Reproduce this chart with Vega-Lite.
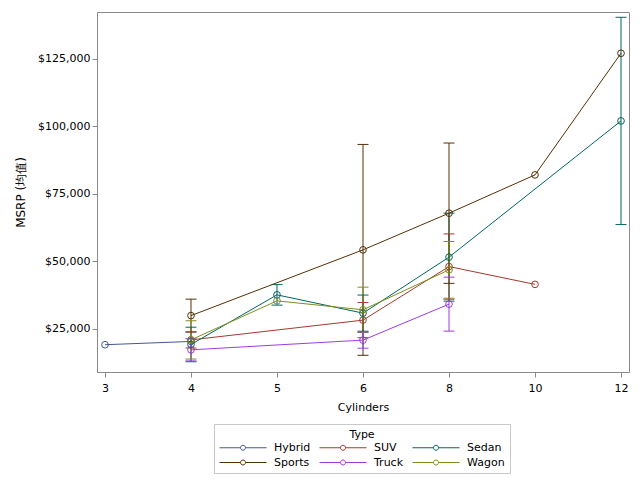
{
  "$schema": "https://vega.github.io/schema/vega-lite/v6.json",
  "width": 532,
  "height": 360,
  "autosize": {"type": "none"},
  "padding": {"left": 97, "top": 12, "right": 11, "bottom": 108},
  "background": "white",
  "config": {
    "font": "DejaVu Sans",
    "view": {"stroke": "#8a8a8a", "strokeWidth": 1},
    "axis": {
      "domainColor": "#8a8a8a", "tickColor": "#8a8a8a", "tickSize": 5, "grid": false,
      "labelFont": "DejaVu Sans", "labelFontSize": 11, "labelColor": "#000",
      "titleFont": "DejaVu Sans", "titleFontSize": 11, "titleFontWeight": "normal", "titleColor": "#000"
    },
    "legend": {
      "orient": "none", "legendX": 117, "legendY": 412,
      "direction": "horizontal", "columns": 3, "gridAlign": "each",
      "titleAnchor": "middle", "titleFont": "DejaVu Sans", "titleFontSize": 11, "titleFontWeight": "normal", "titleColor": "#000", "titlePadding": 2,
      "labelFont": "DejaVu Sans", "labelFontSize": 11, "labelColor": "#000", "labelOffset": 44,
      "symbolType": "M-1,0H3.2 M4.2,0H8.4 M3.2,0A0.5,0.5 0 1,0 4.2,0A0.5,0.5 0 1,0 3.2,0",
      "symbolSize": 100, "symbolStrokeWidth": 1, "symbolFillColor": "transparent",
      "columnPadding": 6, "rowPadding": 3, "padding": 5, "strokeColor": "#c8c8c8"
    }
  },
  "data": {
    "values": [
      {"Type": "Hybrid", "Cylinders": 3, "MSRP": 19110, "lower": null, "upper": null},
      {"Type": "Hybrid", "Cylinders": 4, "MSRP": 20325, "lower": null, "upper": null},
      {"Type": "SUV", "Cylinders": 4, "MSRP": 20900, "lower": 17900, "upper": 23900},
      {"Type": "SUV", "Cylinders": 6, "MSRP": 28220, "lower": 21700, "upper": 34740},
      {"Type": "SUV", "Cylinders": 8, "MSRP": 48070, "lower": 35970, "upper": 60170},
      {"Type": "SUV", "Cylinders": 10, "MSRP": 41475, "lower": null, "upper": null},
      {"Type": "Sedan", "Cylinders": 4, "MSRP": 19200, "lower": 12800, "upper": 25600},
      {"Type": "Sedan", "Cylinders": 5, "MSRP": 37590, "lower": 33790, "upper": 41390},
      {"Type": "Sedan", "Cylinders": 6, "MSRP": 30815, "lower": 24115, "upper": 37515},
      {"Type": "Sedan", "Cylinders": 8, "MSRP": 51555, "lower": 35255, "upper": 67855},
      {"Type": "Sedan", "Cylinders": 12, "MSRP": 102040, "lower": 63640, "upper": 140440},
      {"Type": "Sports", "Cylinders": 4, "MSRP": 29900, "lower": 23800, "upper": 36000},
      {"Type": "Sports", "Cylinders": 6, "MSRP": 54260, "lower": 15190, "upper": 93330},
      {"Type": "Sports", "Cylinders": 8, "MSRP": 67850, "lower": 41850, "upper": 93850},
      {"Type": "Sports", "Cylinders": 10, "MSRP": 82040, "lower": null, "upper": null},
      {"Type": "Sports", "Cylinders": 12, "MSRP": 127110, "lower": null, "upper": null},
      {"Type": "Truck", "Cylinders": 4, "MSRP": 17220, "lower": 13120, "upper": 21320},
      {"Type": "Truck", "Cylinders": 6, "MSRP": 20815, "lower": 17815, "upper": 23815},
      {"Type": "Truck", "Cylinders": 8, "MSRP": 34150, "lower": 24150, "upper": 44150},
      {"Type": "Wagon", "Cylinders": 4, "MSRP": 20900, "lower": 13800, "upper": 28000},
      {"Type": "Wagon", "Cylinders": 5, "MSRP": 35370, "lower": null, "upper": null},
      {"Type": "Wagon", "Cylinders": 6, "MSRP": 32040, "lower": 23640, "upper": 40440},
      {"Type": "Wagon", "Cylinders": 8, "MSRP": 46850, "lower": 36350, "upper": 57350}
    ]
  },
  "encoding": {
    "x": {
      "field": "Cylinders", "type": "ordinal", "sort": "ascending",
      "scale": {"type": "point", "padding": 0.093},
      "axis": {"title": "Cylinders", "labelAngle": 0, "labelPadding": 5, "titlePadding": 8}
    },
    "color": {
      "field": "Type", "type": "nominal",
      "scale": {
        "domain": ["Hybrid", "SUV", "Sedan", "Sports", "Truck", "Wagon"],
        "range": ["#445694", "#A23A2E", "#01665E", "#543005", "#9D3CDB", "#7F8E1F"]
      },
      "legend": {
        "title": "Type",
        "encode": {"symbols": {"update": {"fill": {"value": "transparent"}, "fillOpacity": {"value": 0}, "strokeWidth": {"value": 1}}}}
      }
    }
  },
  "layer": [
    {
      "transform": [{"filter": "datum.lower != null"}],
      "mark": {"type": "rule", "strokeWidth": 1},
      "encoding": {
        "y": {"field": "lower", "type": "quantitative", "scale": {"domain": [9000, 142400], "nice": false, "zero": false}},
        "y2": {"field": "upper"}
      }
    },
    {
      "transform": [{"filter": "datum.lower != null"}],
      "mark": {"type": "tick", "size": 11, "thickness": 1, "orient": "horizontal", "opacity": 1},
      "encoding": {"y": {"field": "lower", "type": "quantitative"}}
    },
    {
      "transform": [{"filter": "datum.lower != null"}],
      "mark": {"type": "tick", "size": 11, "thickness": 1, "orient": "horizontal", "opacity": 1},
      "encoding": {"y": {"field": "upper", "type": "quantitative"}}
    },
    {
      "mark": {"type": "line", "strokeWidth": 1},
      "encoding": {
        "y": {
          "field": "MSRP", "type": "quantitative",
          "axis": {"title": "MSRP (均值)", "titleFontSize": 12, "values": [25000, 50000, 75000, 100000, 125000], "format": "$,.0f", "labelPadding": 2, "titlePadding": 10}
        }
      }
    },
    {
      "mark": {"type": "point", "shape": "circle", "filled": false, "size": 45, "strokeWidth": 1, "opacity": 1},
      "encoding": {"y": {"field": "MSRP", "type": "quantitative"}}
    }
  ],
  "resolve": {"scale": {"y": "shared"}}
}
